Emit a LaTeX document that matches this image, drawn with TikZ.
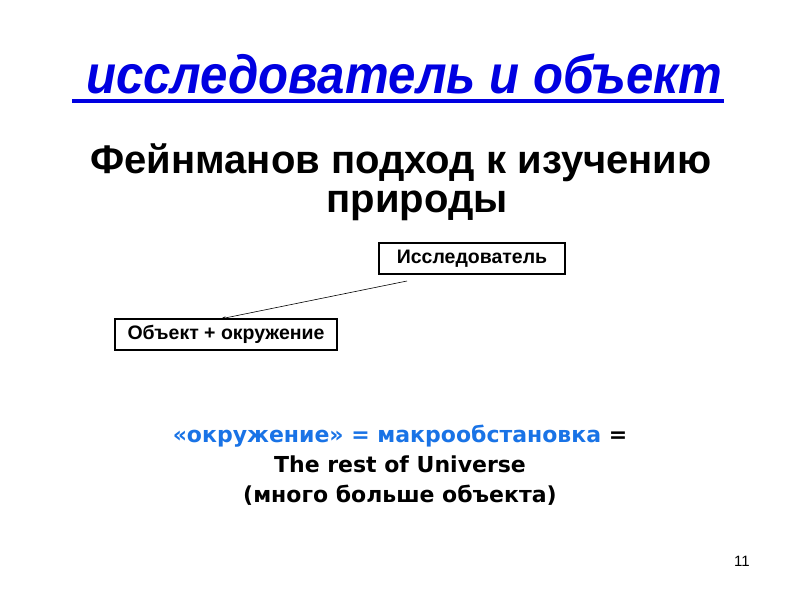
\documentclass[tikz,border=0pt]{standalone}
\usepackage{fontspec}
\setmainfont{Liberation Sans}
\newfontfamily\djv{DejaVu Sans}
\usetikzlibrary{arrows.meta,calc}
\definecolor{titleblue}{RGB}{0,0,225}
\definecolor{textblue}{RGB}{25,115,230}
\begin{document}
\begin{tikzpicture}[x=1pt,y=-1pt,
  every node/.style={inner sep=0pt,outer sep=0pt},
  boxnode/.style={draw,line width=1.6pt,font=\bfseries\fontsize{19.5}{22}\selectfont,minimum height=31pt,anchor=north west},
  bottomtext/.style={anchor=base,font=\djv\bfseries\fontsize{22}{25}\selectfont},
  conn/.style={line width=0.6pt,-{Stealth[length=6pt,width=3pt]}}]
\useasboundingbox[fill=white] (0,0) rectangle (800,600);
\node[anchor=base,text=titleblue,font=\bfseries\itshape\fontsize{54}{60}\selectfont] (title) at (404,93) {\scalebox{0.91}[1]{исследователь и объект}};
\draw[titleblue,line width=3.5pt] (72,101) -- (724,101);
\node[anchor=base,align=center,font=\bfseries\fontsize{40}{39}\selectfont] (sub) at (401,212) {Фейнманов подход к изучению\\\hspace*{32pt}природы};
\node[boxnode,minimum width=186pt] (r) at (379,243) {Исследователь};
\node[boxnode,minimum width=222pt] (o) at (115,319) {Объект + окружение};
\draw[conn] ($(r.south west)+(28,7)$) -- ($(o.north west)+(105,0)$);
\node[bottomtext] (l1) at (400,442) {\textcolor{textblue}{«окружение» = макрообстановка} =};
\node[bottomtext] (l2) at (400,472) {The rest of Universe};
\node[bottomtext] (l3) at (400,502) {(много больше объекта)};
\node[anchor=base,font=\fontsize{15}{18}\selectfont] (pg) at (742,566) {11};
\end{tikzpicture}
\end{document}
